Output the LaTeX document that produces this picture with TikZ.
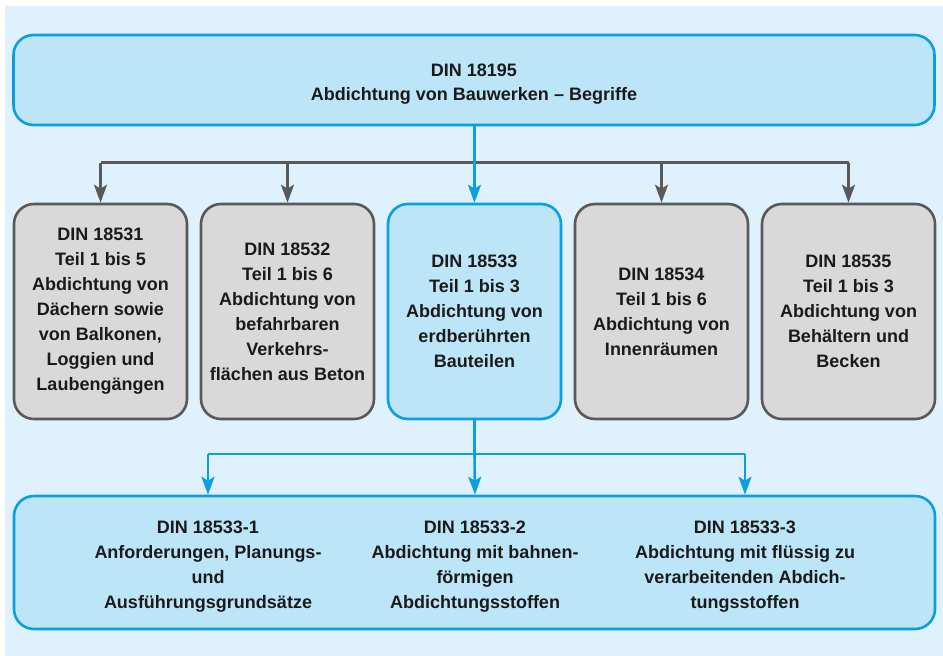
\documentclass[tikz,border=0pt]{standalone}
\usepackage{fontspec}
\setmainfont{Liberation Sans}
\usetikzlibrary{arrows.meta}
\definecolor{bgblue}{HTML}{DFF1FC}
\definecolor{boxblue}{HTML}{BDE5F8}
\definecolor{lineblue}{HTML}{0A9FE0}
\definecolor{boxgray}{HTML}{D9D9D9}
\definecolor{linegray}{HTML}{595959}
\definecolor{txt}{HTML}{1A1A1A}
\newcommand\din[1]{{\bfseries #1}}
\begin{document}
\begin{tikzpicture}[x=1pt,y=1pt,
  lbl/.style={align=center, font=\bfseries\fontsize{18}{25}\selectfont, text=txt},
  bluebox/.style={draw=lineblue, fill=boxblue, line width=2.6pt, rounded corners=20pt, inner sep=0pt, lbl},
  graybox/.style={draw=linegray, fill=boxgray, line width=2.6pt, rounded corners=20pt,
    minimum width=173pt, minimum height=215pt, inner sep=0pt, lbl},
  gline/.style={draw=linegray, line width=2.6pt},
  garrow/.style={gline, -{Stealth[length=18pt,width=13pt,inset=4pt]}},
  bline/.style={draw=lineblue, line width=2.6pt},
  barrow/.style={bline, -{Stealth[length=18pt,width=13pt,inset=4pt]}}
]
\useasboundingbox (0,0) rectangle (943,656);
\fill[bgblue] (5,0) rectangle (943,650);

\node[bluebox, minimum width=921pt, minimum height=90pt] (top) at (474,576) {};
\node[lbl, font=\bfseries\fontsize{18}{23.5}\selectfont] (tt) at ([yshift=-4pt]top.center)
  {\din{DIN 18195}\\Abdichtung von Bauwerken – Begriffe};

\node[graybox] (b1) at (100.5,344.5)
  {\din{DIN 18531}\\Teil 1 bis 5\\Abdichtung von\\Dächern sowie\\von Balkonen,\\Loggien und\\Laubengängen};
\node[graybox] (b2) at (287.5,344.5)
  {\din{DIN 18532}\\Teil 1 bis 6\\Abdichtung von\\befahrbaren\\Verkehrs-\\flächen aus Beton};
\node[bluebox, minimum width=173pt, minimum height=215pt] (b3) at (474.5,344.5)
  {\din{DIN 18533}\\Teil 1 bis 3\\Abdichtung von\\erdberührten\\Bauteilen};
\node[graybox] (b4) at (661.5,344.5)
  {\din{DIN 18534}\\Teil 1 bis 6\\Abdichtung von\\Innenräumen};
\node[graybox] (b5) at (848.5,344.5)
  {\din{DIN 18535}\\Teil 1 bis 3\\Abdichtung von\\Behältern und\\Becken};

\node[bluebox, minimum width=921pt, minimum height=133pt] (bot) at (474.5,93.5) {};
\node[lbl] (t1) at (208,89)
  {\din{DIN 18533-1}\\Anforderungen, Planungs-\\und\\Ausführungsgrundsätze};
\node[lbl] (t2) at (475,89)
  {\din{DIN 18533-2}\\Abdichtung mit bahnen-\\förmigen\\Abdichtungsstoffen};
\node[lbl] (t3) at (745,89)
  {\din{DIN 18533-3}\\Abdichtung mit flüssig zu\\verarbeitenden Abdich-\\tungsstoffen};

\coordinate (gy) at (0,493.3);
\draw[gline] (b1.north |- gy) -- (b5.north |- gy);
\draw[garrow] (b1.north |- gy) -- (b1.north);
\draw[garrow] (b2.north |- gy) -- (b2.north);
\draw[garrow] (b4.north |- gy) -- (b4.north);
\draw[garrow] (b5.north |- gy) -- (b5.north);
\draw[barrow] (top.south -| b3.north) -- (b3.north);

\coordinate (by) at (0,202);
\draw[bline] (b3.south) -- (b3.south |- by);
\draw[bline] (t1.north |- by) -- (t3.north |- by);
\draw[barrow] (t1.north |- by) -- (t1.north |- bot.north);
\draw[barrow] (b3.south |- by) -- (t2.north |- bot.north);
\draw[barrow] (t3.north |- by) -- (t3.north |- bot.north);
\end{tikzpicture}
\end{document}
